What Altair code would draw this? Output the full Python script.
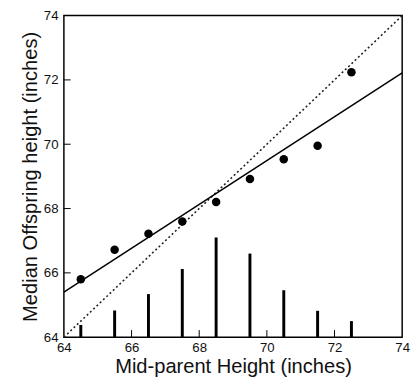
import altair as alt
import pandas as pd

# Mid-parent height classes (inches)
parent = [64.5, 65.5, 66.5, 67.5, 68.5, 69.5, 70.5, 71.5, 72.5]
# Median offspring height for each class
median_child = [65.8, 66.72, 67.22, 67.6, 68.2, 68.92, 69.53, 69.95, 72.24]
# Top of the frequency bars (drawn from the 64 baseline)
bar_top = [64.38, 64.83, 65.34, 66.12, 67.1, 66.6, 65.46, 64.82, 64.5]
# Regression line end points
reg_x = [64, 74]
reg_y = [65.4, 72.22]
# Identity line
diag = [64, 74]
# Axis ticks / labels
tick_vals = [66, 68, 70, 72]
label_vals = [64, 66, 68, 70, 72, 74]

FONT = "Liberation Sans"
scale_x = alt.Scale(domain=[64, 74], nice=False, zero=False)
scale_y = alt.Scale(domain=[64, 74], nice=False, zero=False)

X = alt.X("x:Q", scale=scale_x,
          axis=alt.Axis(values=label_vals, title="Mid-parent Height (inches)",
                        ticks=False, grid=False, domain=False, labelFlush=False,
                        labelOverlap=False, labelPadding=4, titlePadding=3,
                        labelFontSize=13.5, titleFontSize=20.5, labelColor="#111",
                        titleColor="#111", titleFontWeight="normal"))
Y = alt.Y("y:Q", scale=scale_y,
          axis=alt.Axis(values=label_vals, title="Median Offspring height (inches)",
                        ticks=False, grid=False, domain=False, labelFlush=False,
                        labelOverlap=False, labelPadding=6, titlePadding=3,
                        labelFontSize=13.5, titleFontSize=20.5, labelColor="#111",
                        titleColor="#111", titleFontWeight="normal"))

bars_df = pd.DataFrame({"x": parent, "y": [64] * len(parent), "y2": bar_top})
pts_df = pd.DataFrame({"x": parent, "y": median_child})
reg_df = pd.DataFrame({"x": reg_x, "y": reg_y})
diag_df = pd.DataFrame({"x": diag, "y": diag})
xt_df = pd.DataFrame({"x": tick_vals, "y": [64] * 4, "y2": [64.22] * 4})
yt_df = pd.DataFrame({"y": tick_vals, "x": [64] * 4, "x2": [64.2] * 4})

bars = alt.Chart(bars_df).mark_rule(color="black", strokeWidth=3).encode(x=X, y=Y, y2="y2:Q")
xt = alt.Chart(xt_df).mark_rule(color="black", strokeWidth=1).encode(x=X, y=Y, y2="y2:Q")
yt = alt.Chart(yt_df).mark_rule(color="black", strokeWidth=1).encode(x=X, x2="x2:Q", y=Y)
diag_l = alt.Chart(diag_df).mark_line(color="#222", strokeWidth=1.6, strokeDash=[2, 2.6]).encode(x=X, y=Y)
reg_l = alt.Chart(reg_df).mark_line(color="black", strokeWidth=1.5).encode(x=X, y=Y)
pts = alt.Chart(pts_df).mark_circle(color="black", size=75, opacity=1).encode(x=X, y=Y)

chart = alt.layer(bars, xt, yt, diag_l, reg_l, pts).properties(
    width=345, height=328,
    autosize="none",
    padding={"left": 57, "top": 4, "right": 9, "bottom": 44},
).configure(
    font=FONT,
    view=alt.ViewConfig(stroke="black", strokeWidth=1.5),
)

chart.save("out.html", embed_options={"renderer": "svg", "actions": False})
